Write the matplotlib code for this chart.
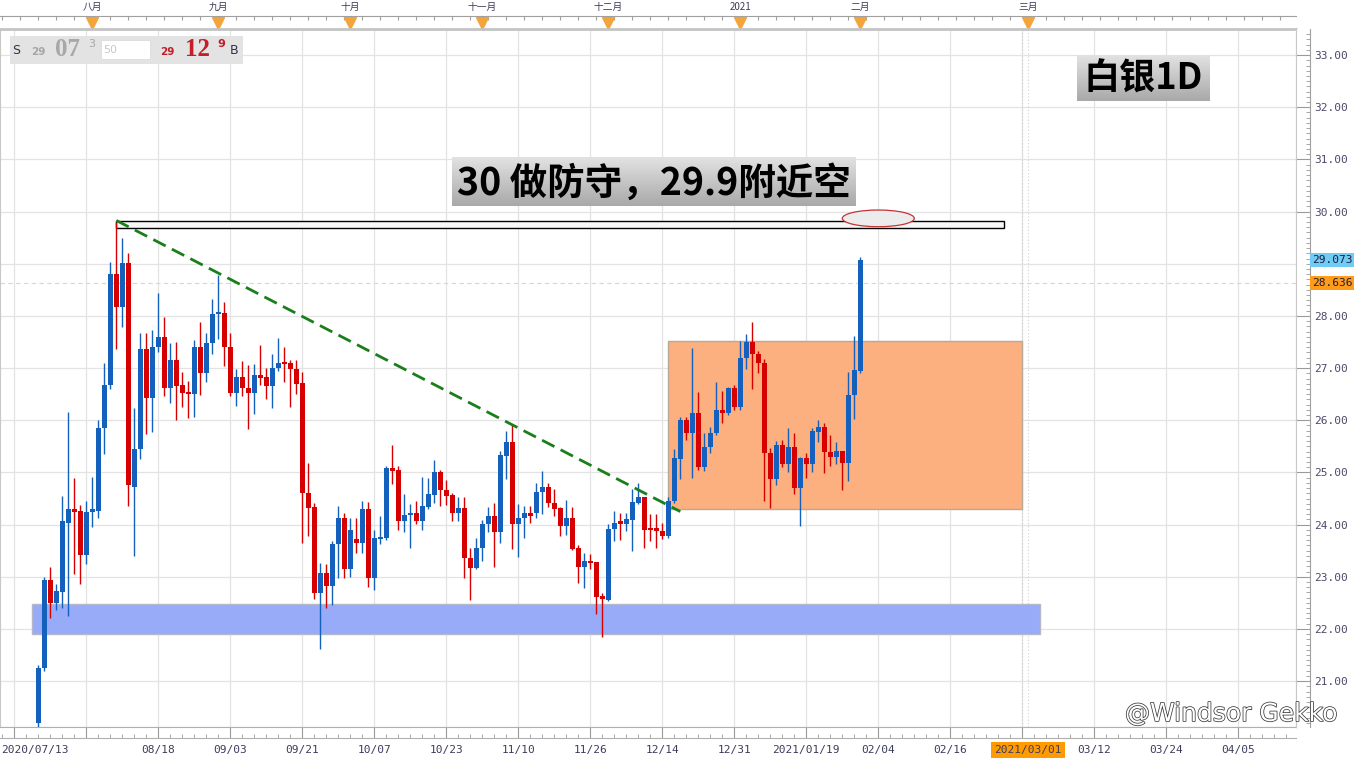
import numpy as np
import pandas as pd
import matplotlib
matplotlib.use('Agg')
from matplotlib import pyplot as plt
from matplotlib.patches import Rectangle, Ellipse
from matplotlib.ticker import FixedLocator, NullFormatter
from matplotlib.transforms import blended_transform_factory
import matplotlib.patheffects as pe

# daily silver candles, 2020-07-21 .. 2021-02-01
opens = [20.2, 21.25, 22.94, 22.5, 22.71, 24.04, 24.29, 24.27, 23.42, 24.25,
         24.27, 25.85, 26.67, 28.81, 28.17, 29.02, 24.73, 25.44, 27.37, 26.42,
         27.4, 27.6, 26.62, 27.15, 26.67, 26.54, 26.5, 27.4, 26.9, 27.48,
         28.04, 28.06, 27.4, 26.52, 26.83, 26.62, 26.52, 26.87, 26.83, 26.65,
         27.0, 27.1, 27.1, 26.98, 26.71, 24.6, 24.33, 22.69, 23.08, 22.83,
         23.63, 24.12, 23.15, 23.73, 23.65, 24.29, 22.98, 23.73, 23.75, 25.08,
         25.04, 24.06, 24.19, 24.23, 24.06, 24.33, 24.56, 25.0, 24.67, 24.56,
         24.23, 24.31, 23.35, 23.17, 23.56, 24.02, 24.17, 23.85, 25.31, 25.58,
         24.02, 24.13, 24.23, 24.23, 24.62, 24.73, 24.42, 24.31, 23.98, 24.13,
         23.56, 23.19, 23.31, 23.29, 22.63, 22.56, 23.92, 24.06, 24.02, 24.08,
         24.42, 24.52, 23.94, 23.94, 23.88, 23.79, 24.46, 25.25, 26.0, 25.75,
         26.13, 25.1, 25.48, 25.75, 26.19, 26.13, 26.62, 26.25, 27.19, 27.5,
         27.27, 27.1, 25.38, 24.87, 25.52, 25.17, 25.48, 24.71, 25.27, 25.17,
         25.77, 25.88, 25.4, 25.29, 25.42, 25.19, 26.48, 26.94]
highs = [21.3, 23.0, 23.19, 22.87, 24.54, 26.15, 24.9, 24.37, 24.46, 24.92,
         26.0, 27.1, 29.04, 29.8, 29.5, 29.21, 26.23, 27.67, 27.67, 27.73,
         28.44, 27.98, 27.48, 27.5, 26.92, 26.75, 27.54, 27.88, 27.67, 28.33,
         28.79, 28.27, 27.67, 26.98, 27.13, 27.06, 27.08, 27.44, 27.0, 27.27,
         27.58, 27.4, 27.15, 27.15, 26.92, 25.19, 24.42, 23.27, 23.25, 23.69,
         24.35, 24.23, 24.12, 24.12, 24.46, 24.44, 23.9, 24.17, 25.12, 25.52,
         25.13, 24.58, 24.4, 24.46, 24.92, 24.9, 25.23, 25.04, 24.85, 24.6,
         24.52, 24.52, 23.56, 23.75, 24.08, 24.33, 24.42, 25.42, 25.79, 25.9,
         24.4, 24.35, 24.35, 24.79, 25.02, 24.79, 24.69, 24.33, 24.48, 24.33,
         23.6, 23.46, 23.44, 23.29, 22.69, 24.02, 24.27, 24.23, 24.23, 24.69,
         24.79, 24.52, 24.21, 24.21, 24.04, 24.52, 25.44, 26.06, 26.06, 27.38,
         26.54, 25.75, 25.87, 26.73, 26.56, 26.63, 26.67, 27.52, 27.65, 27.88,
         27.33, 27.17, 25.46, 25.6, 25.63, 25.85, 25.75, 25.29, 25.37, 25.85,
         26.0, 25.94, 25.71, 25.58, 25.42, 26.92, 27.62, 29.13]
lows = [20.1, 21.2, 22.21, 22.37, 22.4, 22.25, 23.06, 22.87, 23.25, 23.96,
        24.12, 25.35, 26.6, 27.37, 27.79, 24.35, 23.4, 25.25, 25.73, 25.77,
        27.3, 26.46, 26.33, 26.0, 26.25, 26.04, 26.06, 26.48, 26.73, 27.27,
        27.56, 27.04, 26.46, 26.27, 26.46, 25.83, 26.12, 26.67, 26.4, 26.23,
        26.95, 26.73, 26.25, 26.5, 23.65, 23.79, 22.58, 21.62, 22.4, 22.46,
        22.98, 22.98, 23.0, 23.46, 23.46, 22.81, 22.75, 23.63, 23.7, 24.77,
        23.9, 23.85, 23.56, 24.02, 23.9, 24.29, 24.42, 24.35, 24.38, 24.06,
        24.06, 22.98, 22.56, 23.15, 23.31, 23.85, 23.19, 23.65, 24.88, 23.54,
        23.38, 23.75, 24.04, 24.13, 24.21, 24.33, 24.17, 23.79, 23.81, 23.52,
        22.88, 22.79, 23.15, 22.29, 21.85, 22.54, 23.69, 23.71, 23.88, 23.5,
        24.4, 23.56, 23.69, 23.56, 23.73, 23.75, 24.42, 24.88, 25.62, 24.9,
        25.04, 25.02, 25.38, 25.71, 25.94, 26.1, 26.19, 26.2, 26.98, 26.6,
        26.9, 24.46, 24.31, 24.75, 25.1, 25.0, 24.58, 23.98, 24.9, 25.0,
        25.58, 24.98, 25.13, 25.17, 24.67, 24.83, 26.02, 26.9]
closes = [21.25, 22.94, 22.5, 22.73, 24.06, 24.29, 24.25, 23.42, 24.25, 24.29,
          25.85, 26.67, 28.81, 28.17, 29.02, 24.75, 25.44, 27.37, 26.42, 27.4,
          27.6, 26.62, 27.15, 26.65, 26.52, 26.5, 27.4, 26.9, 27.48, 28.04,
          28.06, 27.4, 26.52, 26.83, 26.62, 26.52, 26.87, 26.81, 26.65, 27.0,
          27.1, 27.08, 26.98, 26.69, 24.6, 24.31, 22.69, 23.08, 22.83, 23.63,
          24.12, 23.15, 23.9, 23.65, 24.29, 22.98, 23.75, 23.77, 25.08, 25.02,
          24.06, 24.19, 24.23, 24.06, 24.35, 24.58, 25.0, 24.67, 24.54, 24.23,
          24.31, 23.35, 23.17, 23.56, 24.02, 24.17, 23.85, 25.33, 25.58, 24.02,
          24.13, 24.23, 24.17, 24.62, 24.73, 24.42, 24.29, 23.98, 24.13, 23.54,
          23.19, 23.31, 23.27, 22.62, 22.58, 23.92, 24.04, 24.02, 24.1, 24.44,
          24.52, 23.9, 23.9, 23.87, 23.79, 24.46, 25.27, 26.0, 25.75, 26.13,
          25.1, 25.48, 25.75, 26.19, 26.13, 26.62, 26.25, 27.19, 27.5, 27.27,
          27.1, 25.38, 24.87, 25.52, 25.17, 25.48, 24.71, 25.27, 25.17, 25.79,
          25.88, 25.4, 25.29, 25.42, 25.19, 26.48, 26.96, 29.073]
ref_price = 28.636

first_day = '2020-07-21'
last_day = '2021-02-01'
holidays = ['2020-12-25', '2021-01-01']

price_ticks = [21, 22, 23, 24, 25, 26, 27, 28, 30, 31, 32, 33]

date_ticks = ['2020-08-18', '2020-09-03', '2020-09-21', '2020-10-07', '2020-10-23',
              '2020-11-10', '2020-11-26', '2020-12-14', '2020-12-31', '2021-01-19',
              '2021-02-04', '2021-02-16', '2021-03-01', '2021-03-12', '2021-03-24',
              '2021-04-05']
date_tick_labels = ['08/18', '09/03', '09/21', '10/07', '10/23', '11/10', '11/26',
                    '12/14', '12/31', '2021/01/19', '02/04', '02/16', '2021/03/01',
                    '03/12', '03/24', '04/05']
month_starts = ['2020-08-01', '2020-09-01', '2020-10-01', '2020-11-01',
                '2020-12-01', '2021-01-01', '2021-02-01', '2021-03-01']
month_names = ['八月', '九月', '十月', '十一月', '十二月', '2021', '二月', '三月']

# drawings on the chart
trend_dates = ['2020-08-07', '2020-12-17']
trend_prices = [29.83, 24.25]
resist_dates = ['2020-08-07', '2021-02-25']
resist_prices = [29.69, 29.82]
target_date = '2021-02-04'
target_price = 29.87
range_dates = ['2020-12-15', '2021-02-28']
range_prices = [24.29, 27.52]
support_dates = ['2020-07-20', '2021-03-03']
support_prices = [21.9, 22.48]
now_dates = ['2021-02-28', '2021-03-01']

W, H = 1360, 760
BLUE = '#1360bd'
RED = '#d60000'
CJK = ['Noto Sans CJK SC', 'DejaVu Sans']
MONO = 'DejaVu Sans Mono'

plt.rcParams['font.family'] = ['DejaVu Sans', 'Noto Sans CJK SC']

hol = np.array(holidays, dtype='datetime64[D]')
start = np.datetime64(first_day)
end = np.datetime64(last_day)
n_bars = int(np.busday_count(start, end, holidays=hol)) + 1


def date_to_x(d):
    d = np.datetime64(d)
    if d <= end:
        return float(np.busday_count(start, d, holidays=hol))
    return float(n_bars - 1 + (d - end).astype(int))


def fx(px):
    return px / W


def fy(py):
    return 1 - py / H


def px_to_x(px):
    return (px - 38.3) / 6.0


def gradient_box(fig, x0, y0, x1, y1, label, size):
    bx = fig.add_axes([fx(x0), fy(y1), (x1 - x0) / W, (y1 - y0) / H], zorder=6)
    grad = np.linspace(0.0, 1.0, 64).reshape(-1, 1)
    bx.imshow(grad, cmap=matplotlib.colors.LinearSegmentedColormap.from_list(
        'g', ['#e2e2e2', '#a9a9a9']), aspect='auto', extent=[0, 1, 0, 1])
    bx.axis('off')
    bx.text(0.5, 0.47, label, ha='center', va='center', fontsize=size,
            fontweight='bold', family=CJK, color='black', transform=bx.transAxes)


def main():
    o = np.array(opens)
    h = np.array(highs)
    l = np.array(lows)
    c = np.array(closes)
    x = np.arange(len(o))
    colors = np.where(c >= o, BLUE, RED)

    fig = plt.figure(figsize=(13.6, 7.6), dpi=100)
    xlim = (px_to_x(0), px_to_x(1296))
    ylim = (20.12, 33.50)
    grid_x = np.arange(-4, 212, 12)

    # main price panel
    ax = fig.add_axes([0, fy(727), fx(1296), (727 - 29) / H])
    ax.set_xlim(*xlim)
    ax.set_ylim(*ylim)
    ax.set_xticks(grid_x)
    ax.set_yticks(np.arange(21, 34))
    ax.grid(True, color='#e3e3e3', lw=0.9, zorder=0)
    ax.tick_params(length=0, labelbottom=False, labelleft=False)
    for s in ax.spines.values():
        s.set_color('#c8c8c8')
    ax.set_axisbelow(True)

    ax.axhline(ref_price, color='#d6d6d6', lw=0.8, ls=(0, (4, 3)), zorder=1)
    for d in now_dates:
        ax.axvline(date_to_x(d), color='#d0d0d0', lw=0.8, ls=(0, (1, 2)), zorder=1)

    # boxes
    sx0, sx1 = date_to_x(support_dates[0]), date_to_x(support_dates[1])
    ax.add_patch(Rectangle((sx0, support_prices[0]), sx1 - sx0,
                           support_prices[1] - support_prices[0],
                           fc='#97abf8', ec='#b4b8c8', lw=1, zorder=2))
    rx0, rx1 = date_to_x(range_dates[0]), date_to_x(range_dates[1])
    ax.add_patch(Rectangle((rx0, range_prices[0]), rx1 - rx0,
                           range_prices[1] - range_prices[0],
                           fc='#fcb07f', ec='#b8a898', lw=1, zorder=2))
    kx0, kx1 = date_to_x(resist_dates[0]), date_to_x(resist_dates[1])
    ax.add_patch(Rectangle((kx0, resist_prices[0]), kx1 - kx0,
                           resist_prices[1] - resist_prices[0],
                           fc='#f7f7f7', ec='black', lw=1.0, zorder=2))
    ax.add_patch(Ellipse((date_to_x(target_date), target_price), 12, 0.32,
                         fc='#ececec', ec='#c83232', lw=0.9, zorder=3))

    # candles
    ax.vlines(x, l, h, colors=colors, lw=1.0, zorder=4)
    body_low = np.minimum(o, c)
    body_h = np.maximum(np.abs(c - o), 0.03)
    ax.bar(x, body_h, bottom=body_low, width=0.82, color=colors, lw=0, zorder=5)

    # trend line
    ax.plot([date_to_x(d) for d in trend_dates], trend_prices, color='#1a7f1a',
            lw=2.0, dashes=(5, 2.5), zorder=6)

    # bottom date strip
    axb = fig.add_axes([0, fy(738), fx(1296), 11 / H])
    axb.set_xlim(*xlim)
    axb.set_ylim(0, 1)
    axb.set_yticks([])
    axb.xaxis.set_major_locator(FixedLocator(grid_x))
    axb.xaxis.set_minor_locator(FixedLocator(np.arange(-6, 212, 2)))
    axb.xaxis.set_major_formatter(NullFormatter())
    axb.tick_params(axis='x', which='major', direction='in', length=8, color='#9a9a9a')
    axb.tick_params(axis='x', which='minor', direction='in', length=3, color='#9a9a9a')
    for s in axb.spines.values():
        s.set_color('#b0b0b0')
    axb.spines['left'].set_visible(False)
    axb.spines['right'].set_visible(False)

    tb = blended_transform_factory(axb.transData, fig.transFigure)
    fig.text(fx(1), fy(750), '2020/07/13', ha='left', va='center', fontsize=8,
             family=MONO, color='#3c3c5c')
    for d, lab in zip(date_ticks, date_tick_labels):
        kw = {}
        if lab == '2021/03/01':
            kw['bbox'] = dict(fc='#ff9a00', ec='none', pad=2.5)
        axb.text(date_to_x(d), fy(750), lab, ha='center', va='center', fontsize=8,
                 family=MONO, color='#3c3c5c', transform=tb, **kw)

    # top month strip
    axt = fig.add_axes([0, fy(29), fx(1296), 13 / H])
    axt.set_xlim(*xlim)
    axt.set_ylim(0, 1)
    axt.set_yticks([])
    axt.xaxis.tick_top()
    axt.xaxis.set_major_locator(FixedLocator(np.arange(-6, 212, 3)))
    axt.xaxis.set_major_formatter(NullFormatter())
    axt.tick_params(axis='x', direction='in', length=3, color='#a0a0a0')
    axt.spines['top'].set_color('#a0a0a0')
    axt.spines['bottom'].set_color('#c4c4c4')
    axt.spines['bottom'].set_linewidth(2)
    axt.spines['left'].set_visible(False)
    axt.spines['right'].set_visible(False)
    tt = blended_transform_factory(axt.transData, fig.transFigure)
    for d, name in zip(month_starts, month_names):
        mx = date_to_x(d)
        axt.plot(mx, 0.48, marker='v', ms=8, color='#f3a43a', mec='#f3a43a', clip_on=False)
        axt.text(mx, fy(7), name, ha='center', va='center', fontsize=7,
                 family=CJK, color='#3c3c5c', transform=tt)

    # right price strip
    axr = fig.add_axes([fx(1296), fy(727), 14 / W, (727 - 29) / H])
    axr.set_ylim(*ylim)
    axr.set_xticks([])
    axr.yaxis.tick_right()
    axr.set_yticks(price_ticks)
    axr.set_yticklabels(['%.2f' % v for v in price_ticks], family=MONO,
                        fontsize=8, color='#4a4a68')
    axr.yaxis.set_minor_locator(FixedLocator(np.arange(20.2, 33.5, 0.1)))
    axr.tick_params(axis='y', which='major', direction='in', length=10,
                    color='#9a9a9a', pad=3)
    axr.tick_params(axis='y', which='minor', direction='in', length=3,
                    color='#9a9a9a')
    axr.spines['left'].set_color('#c8c8c8')
    axr.spines['right'].set_color('#a0a0a0')
    axr.spines['top'].set_visible(False)
    axr.spines['bottom'].set_visible(False)
    tr = blended_transform_factory(axr.transAxes, axr.transData)
    axr.text(1.12, closes[-1], '%.3f' % closes[-1], ha='left', va='center',
             fontsize=8, family=MONO, color='#1c1c3c', transform=tr, zorder=5,
             bbox=dict(fc='#6fcdf5', ec='none', pad=1.5))
    axr.text(1.12, ref_price, '%.3f' % ref_price, ha='left', va='center',
             fontsize=8, family=MONO, color='#1c1c3c', transform=tr, zorder=5,
             bbox=dict(fc='#ff9c1a', ec='none', pad=1.5))

    # quote widget, top left
    fig.patches.append(Rectangle((fx(10), fy(64)), 233 / W, 28 / H,
                                 transform=fig.transFigure, fc='#e3e3e3',
                                 ec='none', zorder=5))
    fig.patches.append(Rectangle((fx(101), fy(59)), 49 / W, 19 / H,
                                 transform=fig.transFigure, fc='white',
                                 ec='#dcdcdc', lw=0.6, zorder=6))
    fig.text(fx(12), fy(50), 'S', fontsize=9, color='#303050', va='center', zorder=7)
    fig.text(fx(31), fy(52), '29', fontsize=7.5, fontweight='bold',
             color='#a6a6a6', va='center', zorder=7)
    fig.text(fx(55), fy(50), '07', fontsize=18, fontweight='bold', family='Liberation Serif',
             color='#a8a8a8', va='center', zorder=7)
    fig.text(fx(88), fy(44), '3', fontsize=8, color='#a8a8a8', va='center', zorder=7)
    fig.text(fx(103), fy(50), '50', fontsize=8, color='#c8c8c8', va='center', zorder=7)
    fig.text(fx(160), fy(52), '29', fontsize=7.5, fontweight='bold',
             color='#c41e28', va='center', zorder=7)
    fig.text(fx(185), fy(50), '12', fontsize=18, fontweight='bold', family='Liberation Serif',
             color='#c41e28', va='center', zorder=7)
    fig.text(fx(217), fy(44), '9', fontsize=8, fontweight='bold', color='#c41e28',
             va='center', zorder=7)
    fig.text(fx(230), fy(50), 'B', fontsize=9, color='#303050', va='center', zorder=7)

    # captions
    gradient_box(fig, 452, 157, 856, 206, '30 做防守，29.9附近空', 27)
    gradient_box(fig, 1077, 55, 1210, 101, '白银1D', 26)

    # watermark
    fig.text(fx(1125), fy(714), '@Windsor Gekko', fontsize=18, color='white',
             va='center', ha='left', zorder=8,
             path_effects=[pe.withStroke(linewidth=1.1, foreground='#3a3a3a')])

    plt.savefig('out.png', dpi=100)
    plt.close()


if __name__ == "__main__":
    main()
